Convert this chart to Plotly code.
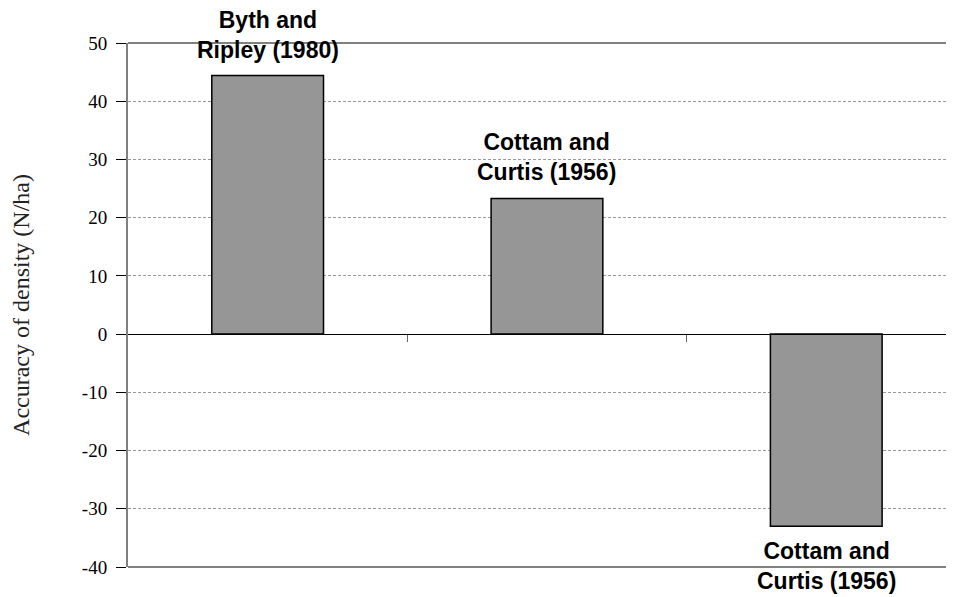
import plotly.graph_objects as go

# Data
categories = ["Byth and<br>Ripley (1980)", "Cottam and<br>Curtis (1956)", "Cottam and<br>Curtis (1956)"]
values = [44.4, 23.3, -33.0]
y_ticks = [-40, -30, -20, -10, 0, 10, 20, 30, 40, 50]
y_tick_labels = ["-40", "-30", "-20", "-10", "0", "10", "20", "30", "40", "50"]

x_pos = list(range(len(values)))

fig = go.Figure()
fig.add_trace(go.Bar(
    x=x_pos, y=values, width=0.4,
    marker=dict(color="#969696", line=dict(color="black", width=1.5)),
    showlegend=False, hoverinfo="skip",
))

for xi, v, lab in zip(x_pos, values, categories):
    fig.add_annotation(
        x=xi, y=v, text="<b>" + lab + "</b>", showarrow=False,
        yanchor="bottom" if v >= 0 else "top",
        yshift=11 if v >= 0 else -10,
        font=dict(family="Liberation Sans, Arial", size=23, color="black"),
        align="center",
    )

fig.update_layout(
    width=954, height=597,
    margin=dict(l=120, r=0, t=35, b=38),
    paper_bgcolor="white", plot_bgcolor="white",
    xaxis=dict(
        range=[-0.5, 2.486], automargin=False,
        anchor="free", position=40 / 90,
        showline=True, linecolor="black", linewidth=1,
        tickmode="array", tickvals=[0.5, 1.5], ticktext=["", ""],
        ticks="outside", ticklen=7, tickcolor="#666", tickwidth=1,
        showgrid=False, zeroline=False,
    ),
    yaxis=dict(
        range=[-40, 50], automargin=False,
        tickmode="array", tickvals=y_ticks, ticktext=y_tick_labels,
        ticks="outside", ticklen=10, tickcolor="black", tickwidth=1,
        ticklabelstandoff=5,
        tickfont=dict(family="Liberation Serif, Times New Roman", size=19, color="black"),
        showline=True, linecolor="#808080", linewidth=2,
        showgrid=True, gridcolor="#999999", griddash="3px,2px", gridwidth=1,
        zeroline=False,
        title=dict(text="Accuracy of density (N/ha)",
                   font=dict(family="Liberation Serif, Times New Roman", size=24, color="#222"),
                   standoff=45),
    ),
    shapes=[
        dict(type="line", xref="paper", yref="paper", x0=0, x1=1, y0=1, y1=1,
             line=dict(color="#808080", width=2)),
        dict(type="line", xref="paper", yref="paper", x0=0, x1=1, y0=0, y1=0,
             line=dict(color="#808080", width=2)),
    ],
)

fig.write_html("out.html")
